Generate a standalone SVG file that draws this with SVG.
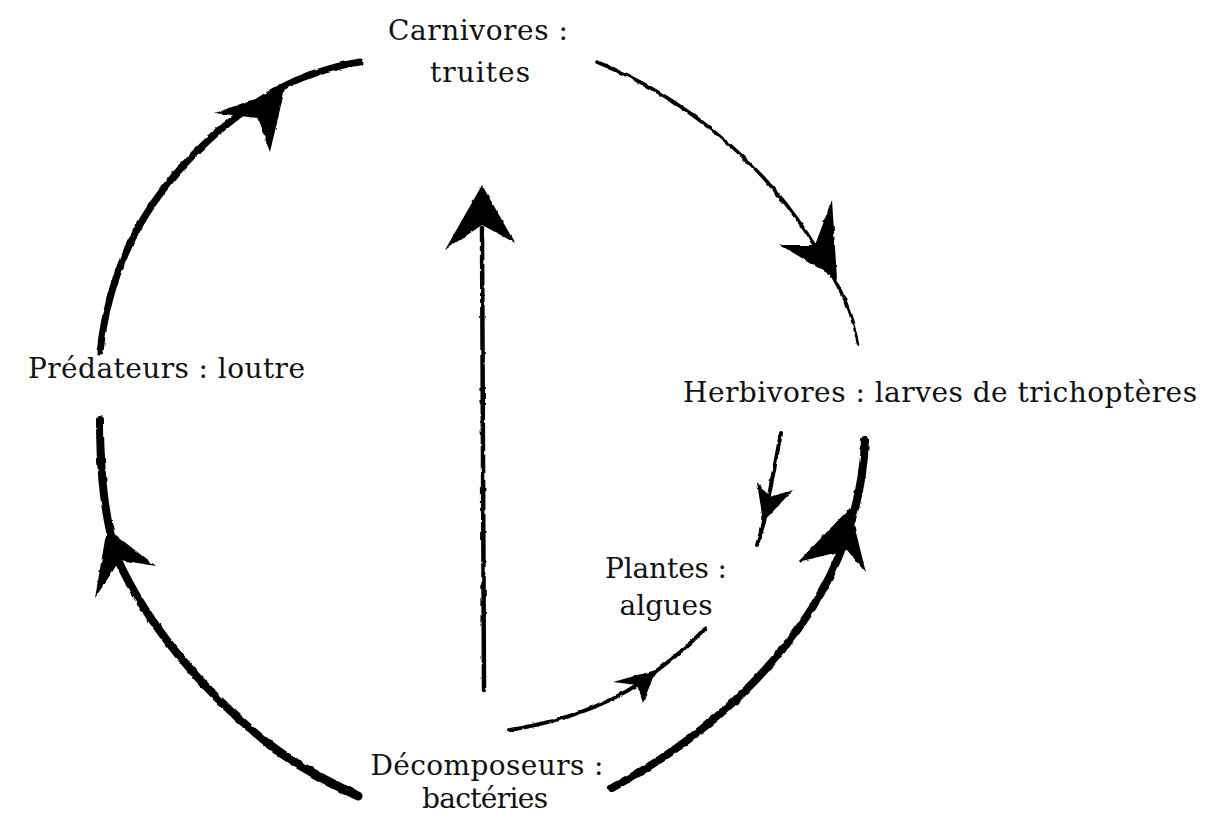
<svg xmlns="http://www.w3.org/2000/svg" width="1205" height="817" viewBox="0 0 1205 817">
<defs>
<style>
.lbl{font-family:"DejaVu Serif","Liberation Serif",serif;font-size:28px;fill:#111}
.ln{fill:none;stroke:#000;stroke-linecap:round}
.hd{fill:#000}
</style>
<filter id="rough" x="-5%" y="-5%" width="110%" height="110%">
<feTurbulence type="fractalNoise" baseFrequency="0.12" numOctaves="2" seed="3" result="n"/>
<feDisplacementMap in="SourceGraphic" in2="n" scale="3" xChannelSelector="R" yChannelSelector="G"/>
</filter>
<linearGradient id="gL1" gradientUnits="userSpaceOnUse" x1="100" y1="420" x2="100" y2="450"><stop offset="0" stop-color="#000" stop-opacity="0"/><stop offset="1" stop-color="#000"/></linearGradient>
<linearGradient id="gL2" gradientUnits="userSpaceOnUse" x1="100" y1="352" x2="102" y2="320"><stop offset="0" stop-color="#000" stop-opacity="0"/><stop offset="1" stop-color="#000"/></linearGradient>
<linearGradient id="gT" gradientUnits="userSpaceOnUse" x1="360" y1="62" x2="335" y2="68"><stop offset="0" stop-color="#000" stop-opacity="0"/><stop offset="1" stop-color="#000"/></linearGradient>
<linearGradient id="gB" gradientUnits="userSpaceOnUse" x1="612" y1="788" x2="640" y2="772"><stop offset="0" stop-color="#000" stop-opacity="0"/><stop offset="1" stop-color="#000"/></linearGradient>
<linearGradient id="gBL" gradientUnits="userSpaceOnUse" x1="358" y1="796" x2="330" y2="785"><stop offset="0" stop-color="#000" stop-opacity="0"/><stop offset="1" stop-color="#000"/></linearGradient>
<linearGradient id="gR" gradientUnits="userSpaceOnUse" x1="858" y1="345" x2="845" y2="300"><stop offset="0" stop-color="#000" stop-opacity="0"/><stop offset="1" stop-color="#000"/></linearGradient>
<linearGradient id="gP" gradientUnits="userSpaceOnUse" x1="705" y1="628" x2="680" y2="650"><stop offset="0" stop-color="#000" stop-opacity="0"/><stop offset="1" stop-color="#000"/></linearGradient>
<linearGradient id="gP2" gradientUnits="userSpaceOnUse" x1="510" y1="730" x2="580" y2="712"><stop offset="0" stop-color="#000" stop-opacity="0"/><stop offset="1" stop-color="#000"/></linearGradient>
<linearGradient id="gS" gradientUnits="userSpaceOnUse" x1="757" y1="545" x2="763" y2="522"><stop offset="0" stop-color="#000" stop-opacity="0"/><stop offset="1" stop-color="#000"/></linearGradient>
</defs>
<g id="connectors" filter="url(#rough)">
<!-- Décomposeurs -> Prédateurs -->
<path class="ln" stroke="url(#gBL)" stroke-width="9" d="M358,796 C330,783 300,768 270,745"/>
<path class="ln" stroke="url(#gL1)" stroke-width="8" d="M270,745 C200,690 145,620 118,560 C104,520 100,470 100,420"/>
<polygon class="hd" points="107,528 155,566 120,560 95,598"/>
<!-- Prédateurs -> Carnivores -->
<path class="ln" stroke="url(#gL2)" stroke-width="7" d="M100,352 C110,260 150,190 220,130 C250,105 280,85 310,75"/>
<path class="ln" stroke="url(#gT)" stroke-width="7" d="M310,75 C330,68 345,64 360,62"/>
<polygon class="hd" points="285,88 215,113 257,118 270,152"/>
<!-- Carnivores -> Herbivores -->
<path class="ln" stroke-width="3.5" d="M597,62 C680,95 760,160 808,235 C825,262 838,285 845,300"/>
<path class="ln" stroke="url(#gR)" stroke-width="2.5" d="M845,300 C852,318 856,332 858,345"/>
<polygon class="hd" points="837,279 832,200 815,245 780,245"/>
<!-- Décomposeurs -> Herbivores -->
<path class="ln" stroke="url(#gB)" stroke-width="8" d="M612,788 C720,730 810,640 845,540 C858,505 864,470 865,440"/>
<polygon class="hd" points="850,508 866,573 847,550 798,562"/>
<!-- Herbivores -> Plantes -->
<path class="ln" stroke-width="4" d="M781,433 L764,522"/>
<path class="ln" stroke="url(#gS)" stroke-width="4" d="M764,522 L757,545"/>
<polygon class="hd" points="763,522 757,482 770,497 793,490"/>
<!-- Décomposeurs -> Plantes -->
<path class="ln" stroke="url(#gP2)" stroke-width="4" d="M510,730 C570,720 620,700 655,672"/>
<path class="ln" stroke="url(#gP)" stroke-width="4" d="M655,672 C675,657 692,643 705,628"/>
<polygon class="hd" points="656,670 643,703 637,685 613,682"/>
<!-- Décomposeurs -> Carnivores (central) -->
<path class="ln" stroke-width="4.5" d="M484,690 L482,228"/>
<polygon class="hd" points="482,185 515,243 482,225 445,250"/>
</g>
<g id="n-carnivores"><text class="lbl" x="478" y="40" text-anchor="middle" textLength="180">Carnivores :</text><text class="lbl" x="480" y="82" text-anchor="middle" textLength="100">truites</text></g>
<g id="n-predateurs"><text class="lbl" x="28" y="378" textLength="277">Prédateurs : loutre</text></g>
<g id="n-herbivores"><text class="lbl" x="683" y="402" textLength="514">Herbivores : larves de trichoptères</text></g>
<g id="n-plantes"><text class="lbl" x="666" y="578" text-anchor="middle" textLength="122">Plantes :</text><text class="lbl" x="666" y="615" text-anchor="middle" textLength="93">algues</text></g>
<g id="n-decomposeurs"><text class="lbl" x="487" y="775" text-anchor="middle" textLength="233">Décomposeurs :</text><text class="lbl" x="485" y="808" text-anchor="middle" textLength="126">bactéries</text></g>
</svg>
